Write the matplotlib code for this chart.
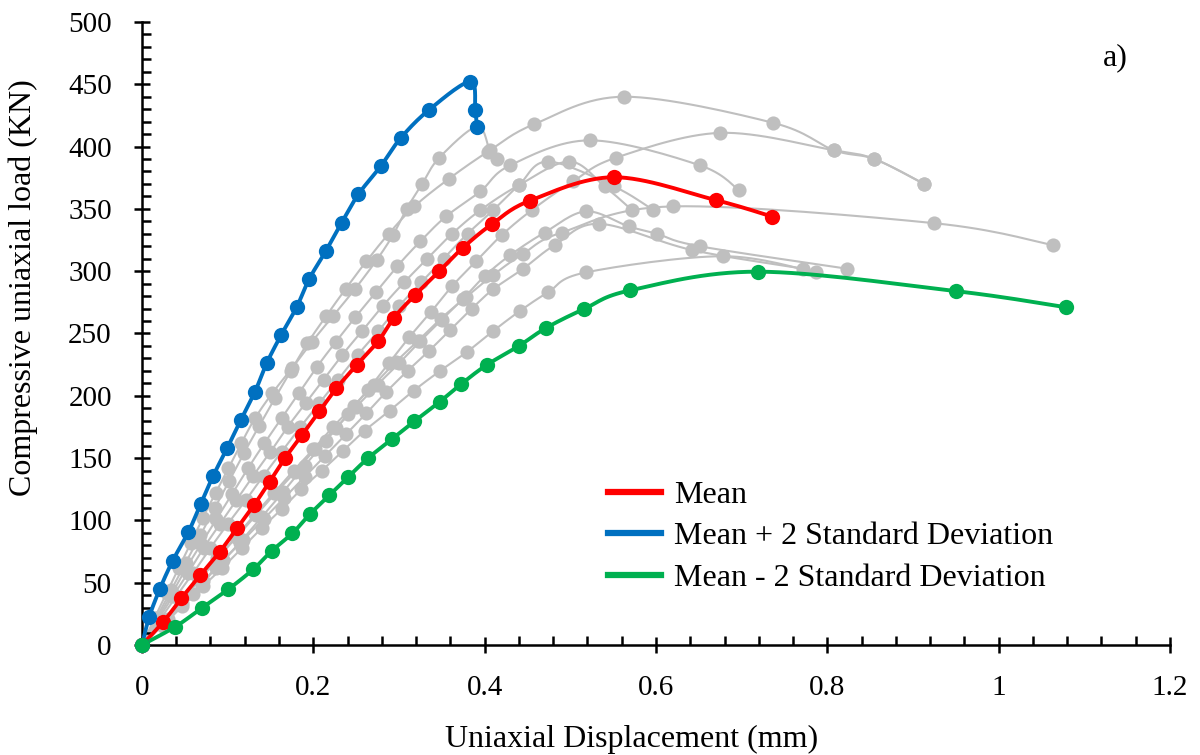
import numpy as np
from matplotlib import pyplot as plt
from matplotlib.ticker import MultipleLocator, FuncFormatter

plt.rcParams['font.family'] = ['Liberation Serif', 'DejaVu Serif']

# mean curve and +/- 2 standard deviation envelopes (displacement mm, load KN)
mean_x = [0, 0.025, 0.046, 0.068, 0.091, 0.111, 0.131, 0.149, 0.167, 0.187, 0.207,
          0.227, 0.251, 0.276, 0.294, 0.319, 0.347, 0.375, 0.409, 0.453, 0.551, 0.670, 0.736]
mean_y = [0, 18.7, 37.5, 56, 75, 93.7, 112.5, 131, 150, 168.7, 187.5,
          206, 225, 244, 262.5, 281, 300, 319, 338, 356.6, 375.4, 357, 343.7]

plus_x = [0, 0.0085, 0.021, 0.036, 0.054, 0.0685, 0.083, 0.0996, 0.1156, 0.132, 0.1455,
          0.1623, 0.1806, 0.1953, 0.2148, 0.2331, 0.2525, 0.2786, 0.302, 0.335, 0.383, 0.389, 0.391]
plus_y = [0, 22.6, 45.2, 67.8, 90.4, 113, 135.6, 158.2, 180.8, 203.4, 226,
          248.6, 271.2, 293.8, 316.4, 339, 361.6, 384.2, 406.8, 429.4, 452, 429, 416]

minus_x = [0, 0.039, 0.0695, 0.1008, 0.130, 0.1513, 0.1756, 0.196, 0.2186, 0.241, 0.264,
           0.2915, 0.3179, 0.3479, 0.3724, 0.4023, 0.44, 0.4716, 0.516, 0.570, 0.719, 0.950, 1.079]
minus_y = [0, 14.7, 29.5, 44.7, 60.8, 75.4, 89.6, 105, 120, 135, 150,
           165, 179.5, 195.4, 209.3, 224.7, 240, 254.4, 269.6, 284.6, 299.6, 284, 271]

# individual specimens
grey_x = [
    [0, 0.015, 0.029, 0.043, 0.057, 0.071, 0.086, 0.101, 0.116, 0.132, 0.152, 0.175,
     0.198, 0.223, 0.249, 0.274, 0.293, 0.309, 0.327, 0.347, 0.391, 0.406, 0.414],
    [0, 0.017, 0.034, 0.051, 0.068, 0.085, 0.102, 0.119, 0.137, 0.155, 0.174, 0.193,
     0.215, 0.238, 0.262, 0.288, 0.318, 0.358, 0.404, 0.458, 0.563, 0.737, 0.808, 0.855, 0.913],
    [0, 0.030, 0.059, 0.087, 0.114, 0.140, 0.165, 0.190, 0.215, 0.240, 0.264, 0.288,
     0.312, 0.337, 0.362, 0.390, 0.420, 0.455, 0.503, 0.553, 0.675, 0.808, 0.855, 0.913],
    [0, 0.017, 0.034, 0.051, 0.069, 0.087, 0.105, 0.124, 0.143, 0.163, 0.183, 0.204,
     0.226, 0.249, 0.273, 0.298, 0.325, 0.355, 0.395, 0.430, 0.523, 0.651, 0.697],
    [0, 0.018, 0.036, 0.054, 0.072, 0.091, 0.110, 0.130, 0.150, 0.170, 0.191, 0.212,
     0.234, 0.257, 0.281, 0.306, 0.333, 0.362, 0.395, 0.440, 0.499, 0.540, 0.572],
    [0, 0.020, 0.040, 0.060, 0.080, 0.100, 0.121, 0.142, 0.163, 0.185, 0.207, 0.229,
     0.252, 0.276, 0.300, 0.326, 0.352, 0.380, 0.410, 0.440, 0.474, 0.551, 0.597],
    [0, 0.022, 0.044, 0.066, 0.088, 0.110, 0.132, 0.154, 0.177, 0.200, 0.223, 0.247,
     0.271, 0.296, 0.322, 0.349, 0.378, 0.410, 0.445, 0.490, 0.620, 0.925, 1.063],
    [0, 0.022, 0.045, 0.067, 0.089, 0.111, 0.133, 0.156, 0.179, 0.202, 0.226, 0.250,
     0.275, 0.300, 0.325, 0.350, 0.375, 0.400, 0.430, 0.470, 0.518, 0.568, 0.601, 0.651, 0.823],
    [0, 0.024, 0.047, 0.071, 0.095, 0.118, 0.142, 0.166, 0.190, 0.214, 0.238, 0.262,
     0.285, 0.310, 0.335, 0.360, 0.385, 0.410, 0.445, 0.482, 0.534, 0.642, 0.772],
    [0, 0.024, 0.047, 0.071, 0.094, 0.117, 0.140, 0.163, 0.186, 0.210, 0.235, 0.260,
     0.289, 0.317, 0.348, 0.379, 0.410, 0.441, 0.474, 0.518, 0.678, 0.787],
]
grey_y = [
    [0, 22, 42, 62, 82, 102, 122, 142, 162, 182, 202, 222,
     243, 264, 286, 309, 329, 350, 370, 391, 416, 397, 390],
    [0, 22, 44, 66, 88, 110, 132, 154, 176, 198, 220, 242,
     264, 286, 308, 330, 352, 374, 396, 418, 440, 419, 397, 390, 370],
    [0, 20.5, 41, 62, 82, 103, 123, 144, 164, 185, 205, 226,
     247, 267, 288, 308, 329, 349, 372, 391, 411, 397, 390, 370],
    [0, 20, 40, 61, 81, 101, 121, 142, 162, 182, 202, 223,
     243, 263, 283, 304, 324, 344, 364, 385, 405, 385, 365],
    [0, 19.4, 39, 58, 78, 97, 116, 136, 155, 175, 194, 213,
     233, 252, 272, 291, 310, 330, 349, 369, 388, 368, 349],
    [0, 19.4, 39, 58, 78, 97, 116, 136, 155, 175, 194, 213,
     233, 252, 272, 291, 310, 330, 349, 369, 388, 368, 349],
    [0, 17.5, 35, 52, 70, 87, 105, 122, 140, 157, 175, 192,
     209, 227, 244, 262, 279, 297, 314, 331, 352, 338.5, 321],
    [0, 17, 35, 52, 70, 87, 104, 122, 139, 157, 174, 191,
     209, 226, 244, 261, 278, 296, 313, 331, 348, 336, 330, 320, 302],
    [0, 17, 34, 51, 68, 84, 101, 118, 135, 152, 169, 186,
     203, 220, 236, 253, 270, 285.5, 302, 321, 338, 317, 302],
    [0, 15.6, 31, 47, 62, 78, 94, 109, 125, 140, 156, 172,
     188, 204, 220, 235, 252, 268, 283, 299, 312, 299],
]

legend_labels = ['Mean', 'Mean + 2 Standard Deviation', 'Mean - 2 Standard Deviation']

GREY = '#BFBFBF'
RED = '#FF0000'
BLUE = '#0070C0'
GREEN = '#00B050'


def smooth(xs, ys, n=16):
    # catmull-rom, close to excel's "smoothed line"
    p = np.column_stack([xs, ys]).astype(float)
    p = np.vstack([p[0], p, p[-1]])
    out = []
    t = np.linspace(0, 1, n, endpoint=False)[:, None]
    for i in range(1, len(p) - 2):
        p0, p1, p2, p3 = p[i - 1], p[i], p[i + 1], p[i + 2]
        seg = 0.5 * (2 * p1 + (-p0 + p2) * t + (2 * p0 - 5 * p1 + 4 * p2 - p3) * t ** 2
                     + (-p0 + 3 * p1 - 3 * p2 + p3) * t ** 3)
        out.append(seg)
    out.append(p[-1][None, :])
    out = np.vstack(out)
    return out[:, 0], out[:, 1]


fig = plt.figure(figsize=(12, 7.55), dpi=100)
ax = fig.add_axes([0.1183, 0.1457, 0.8567, 0.8252])

for gx, gy in zip(grey_x, grey_y):
    sx, sy = smooth(gx, gy)
    ax.plot(sx, sy, color=GREY, lw=1.5, zorder=1)
    ax.plot(gx, gy, 'o', color=GREY, ms=10.2, mec='none', zorder=2, clip_on=False)

lines = []
for xs, ys, c in [(mean_x, mean_y, RED), (plus_x, plus_y, BLUE), (minus_x, minus_y, GREEN)]:
    sx, sy = smooth(xs, ys)
    ln, = ax.plot(sx, sy, color=c, lw=2.8, zorder=3)
    ax.plot(xs, ys, 'o', color=c, ms=11, mec='none', zorder=4, clip_on=False)
    lines.append(ln)

ax.set_xlim(0, 1.2)
ax.set_ylim(0, 500)

for s in ['top', 'right']:
    ax.spines[s].set_visible(False)
for s in ['left', 'bottom']:
    ax.spines[s].set_linewidth(1.8)

ax.xaxis.set_major_locator(MultipleLocator(0.2))
ax.xaxis.set_minor_locator(MultipleLocator(0.04))
ax.yaxis.set_major_locator(MultipleLocator(50))
ax.yaxis.set_minor_locator(MultipleLocator(10))
ax.xaxis.set_major_formatter(FuncFormatter(lambda v, _: '%g' % round(v, 2)))

ax.tick_params(which='major', direction='inout', length=11.5, width=1.8,
               labelsize=21, pad=16)
ax.tick_params(which='minor', direction='in', length=6.5, width=1.8)

ax.set_xlabel('Uniaxial Displacement (mm)', fontsize=23)
ax.set_ylabel('Compressive uniaxial load (KN)', fontsize=23)
ax.xaxis.set_label_coords(0.476, -0.128)
ax.yaxis.set_label_coords(-0.101, 0.573)

ax.text(1.136, 471, 'a)', fontsize=23, ha='center', va='center')

leg = ax.legend(lines, legend_labels, loc='upper left', bbox_to_anchor=(0.4254, 0.31),
                frameon=False, fontsize=23, handlelength=1.67, handletextpad=0.4,
                labelspacing=0.38)
for h in leg.get_lines():
    h.set_linewidth(4.5)

fig.savefig('out.png', dpi=100)
